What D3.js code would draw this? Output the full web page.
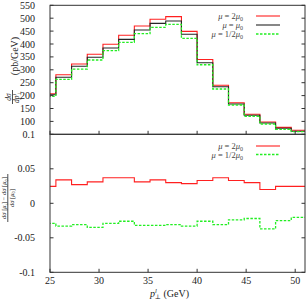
<!DOCTYPE html>
<html>
<head>
<meta charset="utf-8">
<script src="https://cdn.jsdelivr.net/npm/d3@7"></script>
<style>
body { margin: 0; background: #fff; }
svg text { font-family: "Liberation Serif", "DejaVu Serif", serif; fill: #222; }
</style>
</head>
<body>
<script>
// bin edges in GeV (last value closes the last bin)
var binEdges = [24, 25.6, 27.2, 28.8, 30.4, 32, 33.6, 35.2, 36.8, 38.4, 40, 41.6, 43.2, 44.8, 46.4, 48, 49.6, 51.2];

// dsigma/dpT in pb/GeV
var sigmaMu0     = [203.5, 271, 313.6, 348.4, 384.5, 418, 454, 480, 489, 437.6, 327.5, 234.5, 167.4, 123.6, 94, 73.3, 61.6];
var sigma2Mu0    = [207.4, 281, 322.5, 360, 399, 434, 470, 496, 506, 449, 340, 240, 172.5, 127.5, 97.7, 77, 65.5];
var sigmaHalfMu0 = [197.3, 263, 303, 338, 374, 406.6, 440, 464.7, 476, 422, 319.5, 225.6, 163.6, 120, 90, 69.4, 60];

// relative deviation from the central scale
var ratio2Mu0    = [0.0245, 0.034, 0.027, 0.031, 0.037, 0.037, 0.031, 0.034, 0.030, 0.0285, 0.033, 0.037, 0.033, 0.030, 0.020, 0.0245, 0.0245];
var ratioHalfMu0 = [-0.029, -0.033, -0.031, -0.035, -0.029, -0.026, -0.032, -0.032, -0.031, -0.033, -0.026, -0.031, -0.024, -0.022, -0.037, -0.025, -0.0205];

var xTicks = [25, 30, 35, 40, 45, 50];
var topTicks = [100, 150, 200, 250, 300, 350, 400, 450, 500, 550];
var bottomTicks = [-0.1, -0.05, 0, 0.05, 0.1];
var bottomTickLabels = ["-0.1", "-0.05", "0", "0.05", "0.1"];

var red = "#ff2020", dark = "#262626", green = "#22ee22";

document.addEventListener("DOMContentLoaded", function(event) {

	var W = 306, H = 300;
	var left = 50, right = 305, top = 5.3, mid = 134.3, bottom = 272.3;

	var svg = d3.select("body").append("svg")
		.attr("width", W)
		.attr("height", H)

	var x = d3.scaleLinear().domain([25, 51]).range([left, right])
	var yTop = d3.scaleLinear().domain([50, 550]).range([mid, top])
	var yBot = d3.scaleLinear().domain([-0.1, 0.1]).range([bottom, mid])

	var defs = svg.append("defs")
	defs.append("clipPath").attr("id", "clipTop")
		.append("rect").attr("x", left).attr("y", top).attr("width", right - left).attr("height", mid - top)
	defs.append("clipPath").attr("id", "clipBot")
		.append("rect").attr("x", left).attr("y", mid).attr("width", right - left).attr("height", bottom - mid)

	function stepPoints(vals) {
		return binEdges.map(function(e, i) {
			return [e, i < vals.length ? vals[i] : vals[vals.length - 1]]
		})
	}

	function drawSeries(g, yScale, vals, color, dashed, width) {
		var line = d3.line()
			.x(function(d) { return x(d[0]); })
			.y(function(d) { return yScale(d[1]); })
			.curve(d3.curveStepAfter)
		g.append("path")
			.attr("d", line(stepPoints(vals)))
			.attr("fill", "none")
			.attr("stroke", color)
			.attr("stroke-width", width)
			.attr("stroke-dasharray", dashed ? "2.5,1.5" : null)
	}

	// top panel curves
	var gTop = svg.append("g").attr("clip-path", "url(#clipTop)")
	drawSeries(gTop, yTop, sigma2Mu0, red, false, 1.1)
	drawSeries(gTop, yTop, sigmaMu0, dark, false, 1.1)
	drawSeries(gTop, yTop, sigmaHalfMu0, green, true, 1.3)

	// bottom panel curves
	var gBot = svg.append("g").attr("clip-path", "url(#clipBot)")
	drawSeries(gBot, yBot, ratio2Mu0, red, false, 1.1)
	drawSeries(gBot, yBot, ratioHalfMu0, green, true, 1.3)

	// frames
	svg.append("rect").attr("x", left).attr("y", top).attr("width", right - left).attr("height", mid - top)
		.attr("fill", "none").attr("stroke", "#333").attr("stroke-width", 1)
	svg.append("rect").attr("x", left).attr("y", mid).attr("width", right - left).attr("height", bottom - mid)
		.attr("fill", "none").attr("stroke", "#333").attr("stroke-width", 1)

	var tl = 3.5

	// y ticks top panel (left + mirrored right)
	topTicks.forEach(function(t) {
		var yy = yTop(t)
		svg.append("line").attr("x1", left).attr("x2", left + tl).attr("y1", yy).attr("y2", yy).attr("stroke", "#333")
		svg.append("line").attr("x1", right - tl).attr("x2", right).attr("y1", yy).attr("y2", yy).attr("stroke", "#333")
		svg.append("text").attr("x", 35).attr("y", yy + 3.5)
			.attr("text-anchor", "end").style("font-size", "10px").text(t)
	})

	// y ticks bottom panel
	bottomTicks.forEach(function(t, i) {
		var yy = yBot(t)
		svg.append("line").attr("x1", left).attr("x2", left + tl).attr("y1", yy).attr("y2", yy).attr("stroke", "#333")
		svg.append("line").attr("x1", right - tl).attr("x2", right).attr("y1", yy).attr("y2", yy).attr("stroke", "#333")
		svg.append("text").attr("x", 35).attr("y", yy + 3.5)
			.attr("text-anchor", "end").style("font-size", "10px").text(bottomTickLabels[i])
	})

	// x ticks on both panel bottoms
	xTicks.forEach(function(t) {
		var xx = x(t)
		svg.append("line").attr("x1", xx).attr("x2", xx).attr("y1", mid).attr("y2", mid - tl).attr("stroke", "#333")
		svg.append("line").attr("x1", xx).attr("x2", xx).attr("y1", bottom).attr("y2", bottom - tl).attr("stroke", "#333")
		svg.append("text").attr("x", xx).attr("y", 284)
			.attr("text-anchor", "middle").style("font-size", "10px").text(t)
	})

	// x axis label
	var xl = svg.append("text").attr("x", 150).attr("y", 296.5).style("font-size", "10px")
	xl.append("tspan").style("font-style", "italic").text("p")
	xl.append("tspan").attr("dy", -4).style("font-size", "6.5px").style("font-style", "italic").text("l")
	xl.append("tspan").attr("dx", -2).attr("dy", 6.5).style("font-size", "6.5px").text("\u22a5")
	xl.append("tspan").attr("dy", -2.5).text(" (GeV)")

	// top y label: dsigma/dpT (pb/GeV)
	function rotText(bx, cy, size) {
		return svg.append("text")
			.attr("transform", "translate(" + bx + "," + cy + ")rotate(-90)")
			.attr("text-anchor", "middle")
			.style("font-size", size + "px")
	}
	rotText(18, 56, 10).text("(pb/GeV)")
	var num = rotText(10.5, 97, 7.5)
	num.append("tspan").style("font-style", "italic").text("d\u03c3")
	svg.append("line").attr("x1", 12.5).attr("x2", 12.5).attr("y1", 90).attr("y2", 104)
		.attr("stroke", "#222").attr("stroke-width", 0.8)
	var den = rotText(19, 97, 7.5)
	den.append("tspan").style("font-style", "italic").text("dp")
	den.append("tspan").attr("dy", -3).style("font-size", "5px").text("l")
	den.append("tspan").attr("dx", -1.5).attr("dy", 4.5).style("font-size", "5px").text("\u22a5")

	// bottom y label: (dsigma[mu_i]-dsigma[mu_0])/dsigma[mu_0]
	var bn = rotText(6, 198, 6.5)
	bn.append("tspan").style("font-style", "italic").text("d\u03c3")
	bn.append("tspan").text(" [")
	bn.append("tspan").style("font-style", "italic").text("\u03bc")
	bn.append("tspan").attr("dy", 1.5).style("font-size", "4.5px").text("i")
	bn.append("tspan").attr("dy", -1.5).text("] \u2212 ")
	bn.append("tspan").style("font-style", "italic").text("d\u03c3")
	bn.append("tspan").text(" [")
	bn.append("tspan").style("font-style", "italic").text("\u03bc")
	bn.append("tspan").attr("dy", 1.5).style("font-size", "4.5px").text("0")
	bn.append("tspan").attr("dy", -1.5).text("]")
	svg.append("line").attr("x1", 7.8).attr("x2", 7.8).attr("y1", 174).attr("y2", 222)
		.attr("stroke", "#222").attr("stroke-width", 0.8)
	var bd = rotText(13.5, 198, 6.5)
	bd.append("tspan").style("font-style", "italic").text("d\u03c3")
	bd.append("tspan").text(" [")
	bd.append("tspan").style("font-style", "italic").text("\u03bc")
	bd.append("tspan").attr("dy", 1.5).style("font-size", "4.5px").text("0")
	bd.append("tspan").attr("dy", -1.5).text("]")

	// legends
	function legendRow(ly, factor, color, dashed) {
		var t = svg.append("text").attr("x", 243).attr("y", ly + 3).attr("text-anchor", "end")
			.style("font-size", "8.5px").style("fill", "#444")
		t.append("tspan").style("font-style", "italic").text("\u03bc")
		t.append("tspan").text(" = " + factor)
		t.append("tspan").style("font-style", "italic").text("\u03bc")
		t.append("tspan").attr("dy", 2).style("font-size", "6px").text("0")
		svg.append("line").attr("x1", 256).attr("x2", 280).attr("y1", ly).attr("y2", ly)
			.attr("stroke", color).attr("stroke-width", dashed ? 1.3 : 1.1)
			.attr("stroke-dasharray", dashed ? "2.5,1.5" : null)
	}
	legendRow(16, "2", red, false)
	legendRow(25, "", dark, false)
	legendRow(34, "1/2", green, true)

	legendRow(146, "2", red, false)
	legendRow(154.5, "1/2", green, true)
});
</script>
</body>
</html>
